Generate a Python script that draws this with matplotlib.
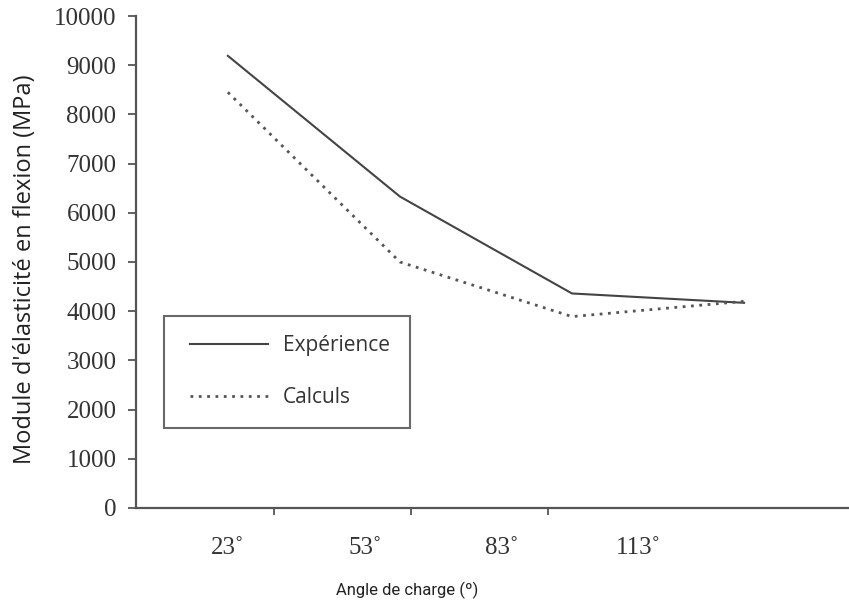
import numpy as np
import matplotlib.pyplot as plt
from matplotlib.legend_handler import HandlerLine2D

# values
angles = ["23˚", "53˚", "83˚", "113˚"]
experience = [9190, 6330, 4360, 4170]
calculs = [8450, 5000, 3890, 4200]
yticks = [0, 1000, 2000, 3000, 4000, 5000, 6000, 7000, 8000, 9000, 10000]

fig = plt.figure(figsize=(8.49, 6.04), dpi=100)
ax = fig.add_axes([0.160, 0.159, 0.840, 0.8145])

x = np.arange(len(angles))
ax.plot(x, experience, color="#444444", lw=1.5, label="Expérience")
ax.plot(x, calculs, color="#555555", lw=2.0, linestyle=(0, (1, 2)), label="Calculs")

ax.set_ylim(0, 10000)
ax.set_xlim(-0.535, 3.61)
ax.set_yticks(yticks)
ax.set_yticklabels([str(v) for v in yticks], fontfamily="Liberation Serif",
                   fontsize=18, color="#333333")

# category labels are shifted against the data in the original scan
lab_pos = x * 0.796
ax.set_xticks(lab_pos)
ax.set_xticklabels(angles, fontfamily="Liberation Serif", fontsize=18, color="#333333")
ax.set_xticks(lab_pos[:3] + 0.267, minor=True)
ax.tick_params(axis="x", which="major", length=0, pad=21)
ax.tick_params(axis="x", which="minor", length=5, width=1.3, color="#555555", direction="out")
ax.tick_params(axis="y", length=6, width=1.3, color="#555555", pad=8)

for s in ["top", "right"]:
    ax.spines[s].set_visible(False)
for s in ["left", "bottom"]:
    ax.spines[s].set_color("#555555")
    ax.spines[s].set_linewidth(1.6)

leg = ax.legend(loc="upper left", bbox_to_anchor=(0.039, 0.391), fancybox=False,
                frameon=True, handlelength=4.05, handletextpad=0.75, labelspacing=1.5,
                borderpad=0.94, borderaxespad=0,
                handler_map={plt.Line2D: HandlerLine2D(xpad=0.34)},
                prop={"family": "Open Sans", "size": 15})
leg.get_frame().set_edgecolor("#444444")
leg.get_frame().set_linewidth(1.5)
for t in leg.get_texts():
    t.set_color("#333333")

fig.text(0.029, 0.555, "Module d'élasticité en flexion (MPa)", rotation=90,
         ha="center", va="center", fontfamily="Open Sans", fontsize=17, color="#222222")
fig.text(0.479, 0.023, "Angle de charge (º)", ha="center", va="center",
         fontfamily="Roboto", fontsize=12, color="#222222")

fig.savefig("out.png", dpi=100)
